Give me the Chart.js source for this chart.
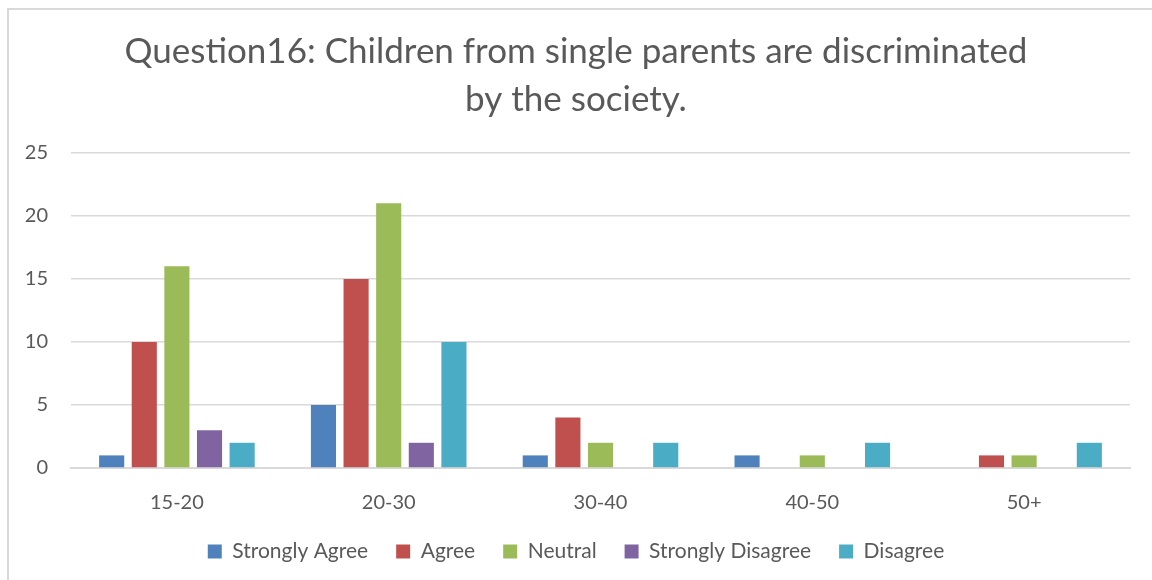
<!DOCTYPE html>
<html>
<head>
<meta charset="utf-8">
<script src="https://cdnjs.cloudflare.com/ajax/libs/Chart.js/4.4.1/chart.umd.js"></script>
<style>
  html, body { margin: 0; padding: 0; background: #fff; overflow: hidden; }
  #frame {
    position: absolute; left: 7px; top: 8px; width: 1200px; height: 620px;
    border-left: 2px solid #d9d9d9; border-top: 2px solid #d9d9d9;
  }
  #wrap { position: absolute; left: 0; top: 0; width: 1152px; height: 580px; }
</style>
</head>
<body>
<div id="frame"></div>
<div id="wrap"><canvas id="chart"></canvas></div>
<script>
const ageGroups = ['15-20', '20-30', '30-40', '40-50', '50+'];
const seriesNames = ['Strongly Agree', 'Agree', 'Neutral', 'Strongly Disagree', 'Disagree'];
const stronglyAgree = [1, 5, 1, 1, 0];
const agree = [10, 15, 4, 0, 1];
const neutral = [16, 21, 2, 1, 1];
const stronglyDisagree = [3, 2, 0, 0, 0];
const disagree = [2, 10, 2, 2, 2];
const yTicks = [0, 5, 10, 15, 20, 25];

const COLORS = ['#4F81BD', '#C0504D', '#9BBB59', '#8064A2', '#4BACC6'];
const TEXT = '#595959';
const FONT = 'Lato, "Open Sans", sans-serif';

const values = [stronglyAgree, agree, neutral, stronglyDisagree, disagree];

new Chart(document.getElementById('chart'), {
    type: 'bar',
    data: {
        labels: ageGroups,
        datasets: seriesNames.map((name, i) => ({
            label: name,
            data: values[i],
            backgroundColor: COLORS[i],
            borderWidth: 0,
            categoryPercentage: 0.77,
            barPercentage: 0.77
        }))
    },
    options: {
        responsive: true,
        maintainAspectRatio: false,
        animation: false,
        // left padding kept small so the y labels stay inside the axis box
        layout: { padding: { left: 22, right: 22, top: 0, bottom: 8 } },
        plugins: {
            title: {
                display: true,
                text: ['Question16: Children from single parents are discriminated', 'by the society.'],
                color: TEXT,
                font: { family: FONT, size: 35, weight: 'normal', lineHeight: 1.37 },
                padding: { top: 28, bottom: 29 }
            },
            legend: {
                position: 'bottom',
                labels: {
                    color: TEXT,
                    font: { family: FONT, size: 21 },
                    boxWidth: 14,
                    boxHeight: 14,
                    padding: 28
                }
            },
            tooltip: { enabled: false }
        },
        scales: {
            x: {
                grid: { display: false },
                border: { display: true, color: '#d9d9d9', width: 2 },
                ticks: { color: TEXT, font: { family: FONT, size: 20 }, padding: 15 },
                afterFit: s => { s.height = 45; }
            },
            y: {
                min: 0,
                max: 25,
                afterBuildTicks: s => { s.ticks = yTicks.map(v => ({ value: v })); },
                grid: { color: '#d9d9d9', lineWidth: 1.5, drawTicks: false },
                border: { display: false },
                ticks: { color: TEXT, font: { family: FONT, size: 20 }, padding: 23 },
                afterFit: s => { s.width = 49; }
            }
        }
    }
});
</script>
</body>
</html>
